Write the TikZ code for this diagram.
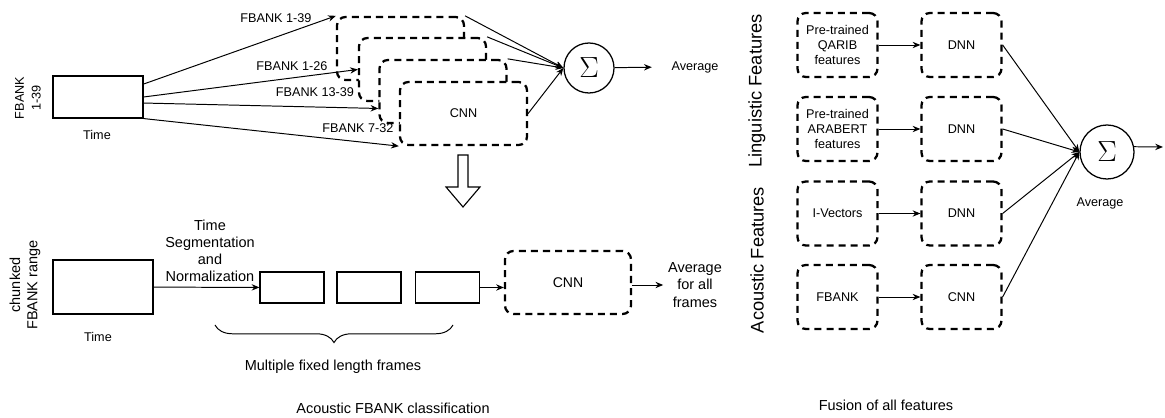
\documentclass[tikz,border=0pt]{standalone}
\usepackage{fontspec}
\setmainfont{Liberation Sans}
\usetikzlibrary{arrows.meta,calc,decorations.pathreplacing}

\begin{document}
\begin{tikzpicture}[x=0.025cm,y=-0.025cm]
		\tikzset{dbox/.style = {draw, line width=1.6pt, dash pattern=on 5pt off 3.6pt, rounded corners=6pt, fill=white, inner sep=0pt, align=center, font=\fontsize{9}{10.4}\selectfont}}
		\tikzset{sbox/.style = {draw, line width=0.8pt, inner sep=0pt}}
		\tikzset{sumnode/.style = {draw, circle, line width=0.9pt, inner sep=0pt, font=\huge}}
		\tikzset{edge/.style = {-{Stealth[length=5.5pt,width=4.5pt]}, line width=0.7pt}}
		\tikzset{lbl/.style = {font=\fontsize{9}{12}\selectfont, align=center}}
		\tikzset{txt/.style = {font=\fontsize{10.3}{12.2}\selectfont, align=center}}
		\tikzset{side/.style = {font=\fontsize{13}{15}\selectfont, rotate=90}}
		
		\useasboundingbox (0,0) rectangle (1165,418);
		
		% top: one CNN per FBANK range
		\node[sbox, minimum width=2.25cm, minimum height=1.05cm] (in1) at (98,97) {};
		\node[lbl, rotate=90]  (fb) at (28,98)  {FBANK\\1-39};
		\node[lbl]             (t1) at (97,135) {Time};
		
		\node[dbox, minimum width=3.175cm, minimum height=1.575cm] (b1) at (400.5,48.5)  {};
		\node[dbox, minimum width=3.175cm, minimum height=1.575cm] (b2) at (422.5,69.5)  {};
		\node[dbox, minimum width=3.175cm, minimum height=1.575cm] (b3) at (443,91.5)    {};
		\node[dbox, minimum width=3.175cm, minimum height=1.575cm] (b4) at (463.5,113.5) {CNN};
		
		\node[lbl] (r1) at (276,18)  {FBANK 1-39};
		\node[lbl] (r2) at (292,66)  {FBANK 1-26};
		\node[lbl] (r3) at (315,92)  {FBANK 13-39};
		\node[lbl] (r4) at (358,128) {FBANK 7-32};
		
		\draw[edge] ($(in1.north east)!0.2!(in1.south east)$)  to (b1.north west);
		\draw[edge] (in1.east)                                 to (b2.west);
		\draw[edge] ($(in1.north east)!0.64!(in1.south east)$) to ($(b3.north west)!0.76!(b3.south west)$);
		\draw[edge] (in1.south east)                           to (b4.south west);
		
		\node[sumnode, minimum size=1.25cm] (s1) at (589,68) {$\Sigma$};
		\node[lbl] (avg1) at (695,67) {Average};
		
		\draw[edge] (b1.north east) to (s1.west);
		\draw[edge] (b2.north east) to (s1.west);
		\draw[edge] (b3.north east) to (s1.west);
		\draw[edge] (b4.east)       to (s1.west);
		\draw[edge, shorten >=0.37cm] (s1) to (avg1.west);
		
		% hollow arrow down
		\draw[line width=0.8pt] (458,155) -- (468,155) -- (468,187) -- (480,187) -- (463,207) -- (446,187) -- (458,187) -- cycle;
		
		% bottom: chunked frames
		\node[sbox, minimum width=2.5cm, minimum height=1.35cm] (in2) at (103,287) {};
		\node[txt, rotate=90] (ch) at (25,285) {chunked\\FBANK range};
		\node[lbl]            (t2) at (98,337) {Time};
		
		\node[sbox, minimum width=1.6cm, minimum height=0.775cm] (f1) at (292,287.5)   {};
		\node[sbox, minimum width=1.6cm, minimum height=0.775cm] (f2) at (369,287.5)   {};
		\node[sbox, minimum width=1.6cm, minimum height=0.775cm] (f3) at (447.5,287.5) {};
		\node[dbox, minimum width=3.15cm, minimum height=1.575cm, font=\fontsize{10}{12}\selectfont] (cnn) at (568,282.5) {CNN};
		
		\node[txt] (seg)  at (210,251) {Time\\Segmentation\\and\\Normalization};
		\node[txt] (avg2) at (695,285) {Average\\for all\\frames};
		
		\draw[edge] (in2) to (f1);
		\draw[edge] (f3) to (f3 -| cnn.west);
		\draw[edge] (cnn.east |- avg2) to (avg2.west);
		
		\coordinate (br1) at (453,325);
		\coordinate (br2) at (215,325);
		\draw[decorate, decoration={brace, amplitude=12.5pt}, line width=0.7pt] (br1) -- (br2);
		\node[txt] (mf) at (333,367) {Multiple fixed length frames};
		\node[txt] (ca) at (393,408) {Acoustic FBANK classification};
		
		% right: fusion of all features
		\node[side] (lf) at (757,91)  {Linguistic Features};
		\node[side] (af) at (757,260) {Acoustic Features};
		
		\node[dbox, minimum width=2cm, minimum height=1.6cm] (p1) at (837.5,45)    {Pre-trained\\QARIB\\features};
		\node[dbox, minimum width=2cm, minimum height=1.6cm] (p2) at (837.5,129)   {Pre-trained\\ARABERT\\features};
		\node[dbox, minimum width=2cm, minimum height=1.6cm] (p3) at (837.5,213.5) {I-Vectors};
		\node[dbox, minimum width=2cm, minimum height=1.6cm] (p4) at (837.5,297)   {FBANK};
		
		\node[dbox, minimum width=2cm, minimum height=1.6cm] (d1) at (961.5,45)    {DNN};
		\node[dbox, minimum width=2cm, minimum height=1.6cm] (d2) at (961.5,129)   {DNN};
		\node[dbox, minimum width=2cm, minimum height=1.6cm] (d3) at (961.5,213.5) {DNN};
		\node[dbox, minimum width=2cm, minimum height=1.6cm] (d4) at (961.5,297)   {CNN};
		
		\draw[edge] (p1) to (d1);
		\draw[edge] (p2) to (d2);
		\draw[edge] (p3) to (d3);
		\draw[edge] (p4) to (d4);
		
		\node[sumnode, minimum size=1.35cm] (s2) at (1107,152) {$\Sigma$};
		\node[lbl] (avg3) at (1100,203) {Average};
		\coordinate (o2) at (1163,147);
		
		\draw[edge] (d1.east) to (s2.west);
		\draw[edge] (d2.east) to (s2.west);
		\draw[edge] (d3.east) to (s2.west);
		\draw[edge] (d4.east) to (s2.west);
		\draw[edge] (s2.11) to (o2);
		
		\node[txt] (fu) at (886,405) {Fusion of all features};
\end{tikzpicture}
\end{document}
